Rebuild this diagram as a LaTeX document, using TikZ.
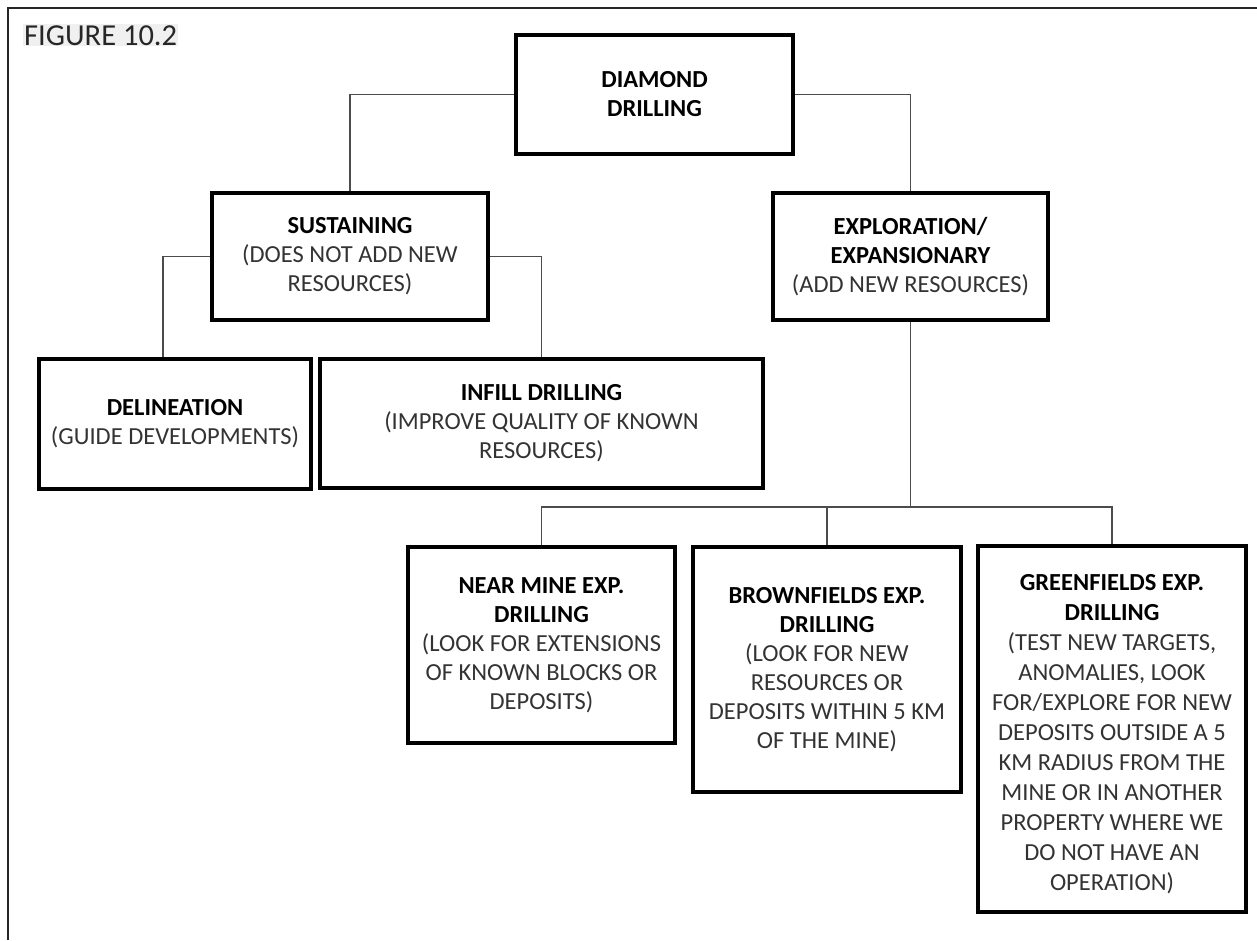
\documentclass[tikz,border=0pt]{standalone}
\usepackage{fontspec}
\setmainfont{Carlito}
\newcommand{\ttl}[1]{\textbf{\color{black}#1}}
\begin{document}
\begin{tikzpicture}[x=1pt,y=-1pt,
  box/.style={draw=black, line width=4pt, fill=white, align=center, inner sep=0pt,
    font=\fontsize{24.5}{29}\selectfont, text=black!80},
  boxtext/.style={align=center, inner sep=0pt, font=\fontsize{24.5}{30}\selectfont, text=black!80},
  link/.style={draw=black!70, line width=1.5pt}]
\useasboundingbox (0,0) rectangle (1257,940);
\fill[white] (0,0) rectangle (1257,940);
\draw[line width=1.5pt, black!85] (8,940) -- (8,8) -- (1257,8);
\node[anchor=base west, font=\fontsize{30.5}{34}\selectfont, fill=black!6, inner sep=1pt, text=black!85] (fig) at (23,45) {FIGURE 10.2};

\node[box, minimum width=277pt, minimum height=119pt] (dd) at (654.5,94.5) {\ttl{DIAMOND}\\\ttl{DRILLING}};
\node[box, minimum width=276pt, minimum height=127pt] (sus) at (350,256.5) {\ttl{SUSTAINING}\\(DOES NOT ADD NEW\\RESOURCES)};
\node[box, minimum width=275pt, minimum height=127pt] (exp) at (910.5,256.5) {\ttl{EXPLORATION/}\\\ttl{EXPANSIONARY}\\(ADD NEW RESOURCES)};
\node[box, minimum width=272pt, minimum height=130pt] (del) at (175,424) {\ttl{DELINEATION}\\(GUIDE DEVELOPMENTS)};
\node[box, minimum width=443pt, minimum height=129pt] (inf) at (541.5,423.5) {\ttl{INFILL DRILLING}\\(IMPROVE QUALITY OF KNOWN\\RESOURCES)};
\node[box, minimum width=267pt, minimum height=196pt] (near) at (541.5,645) {\ttl{NEAR MINE EXP.}\\\ttl{DRILLING}\\(LOOK FOR EXTENSIONS\\OF KNOWN BLOCKS OR\\DEPOSITS)};
\node[box, minimum width=268pt, minimum height=245pt] (brown) at (827,669.5) {\ttl{BROWNFIELDS EXP.}\\\ttl{DRILLING}\\(LOOK FOR NEW\\RESOURCES OR\\DEPOSITS WITHIN 5 KM\\OF THE MINE)};
\node[box, minimum width=268pt, minimum height=366pt] (green) at (1112,729) {};
\node[boxtext] (greentext) at ([yshift=-5pt]green.center) {\ttl{GREENFIELDS EXP.}\\\ttl{DRILLING}\\(TEST NEW TARGETS,\\ANOMALIES, LOOK\\FOR/EXPLORE FOR NEW\\DEPOSITS OUTSIDE A 5\\KM RADIUS FROM THE\\MINE OR IN ANOTHER\\PROPERTY WHERE WE\\DO NOT HAVE AN\\OPERATION)};

\coordinate (bus) at (910.5,507);
\draw[link] (dd.west) -| (sus.north);
\draw[link] (dd.east) -| (exp.north);
\draw[link] (sus.west) -| ([xshift=-12pt]del.north);
\draw[link] (sus.east) -| (inf.north);
\draw[link] (exp.south) -- (bus);
\draw[link] (near.north) |- (bus);
\draw[link] (green.north) |- (bus);
\draw[link] (brown.north) -- (brown.north |- bus);
\end{tikzpicture}
\end{document}
